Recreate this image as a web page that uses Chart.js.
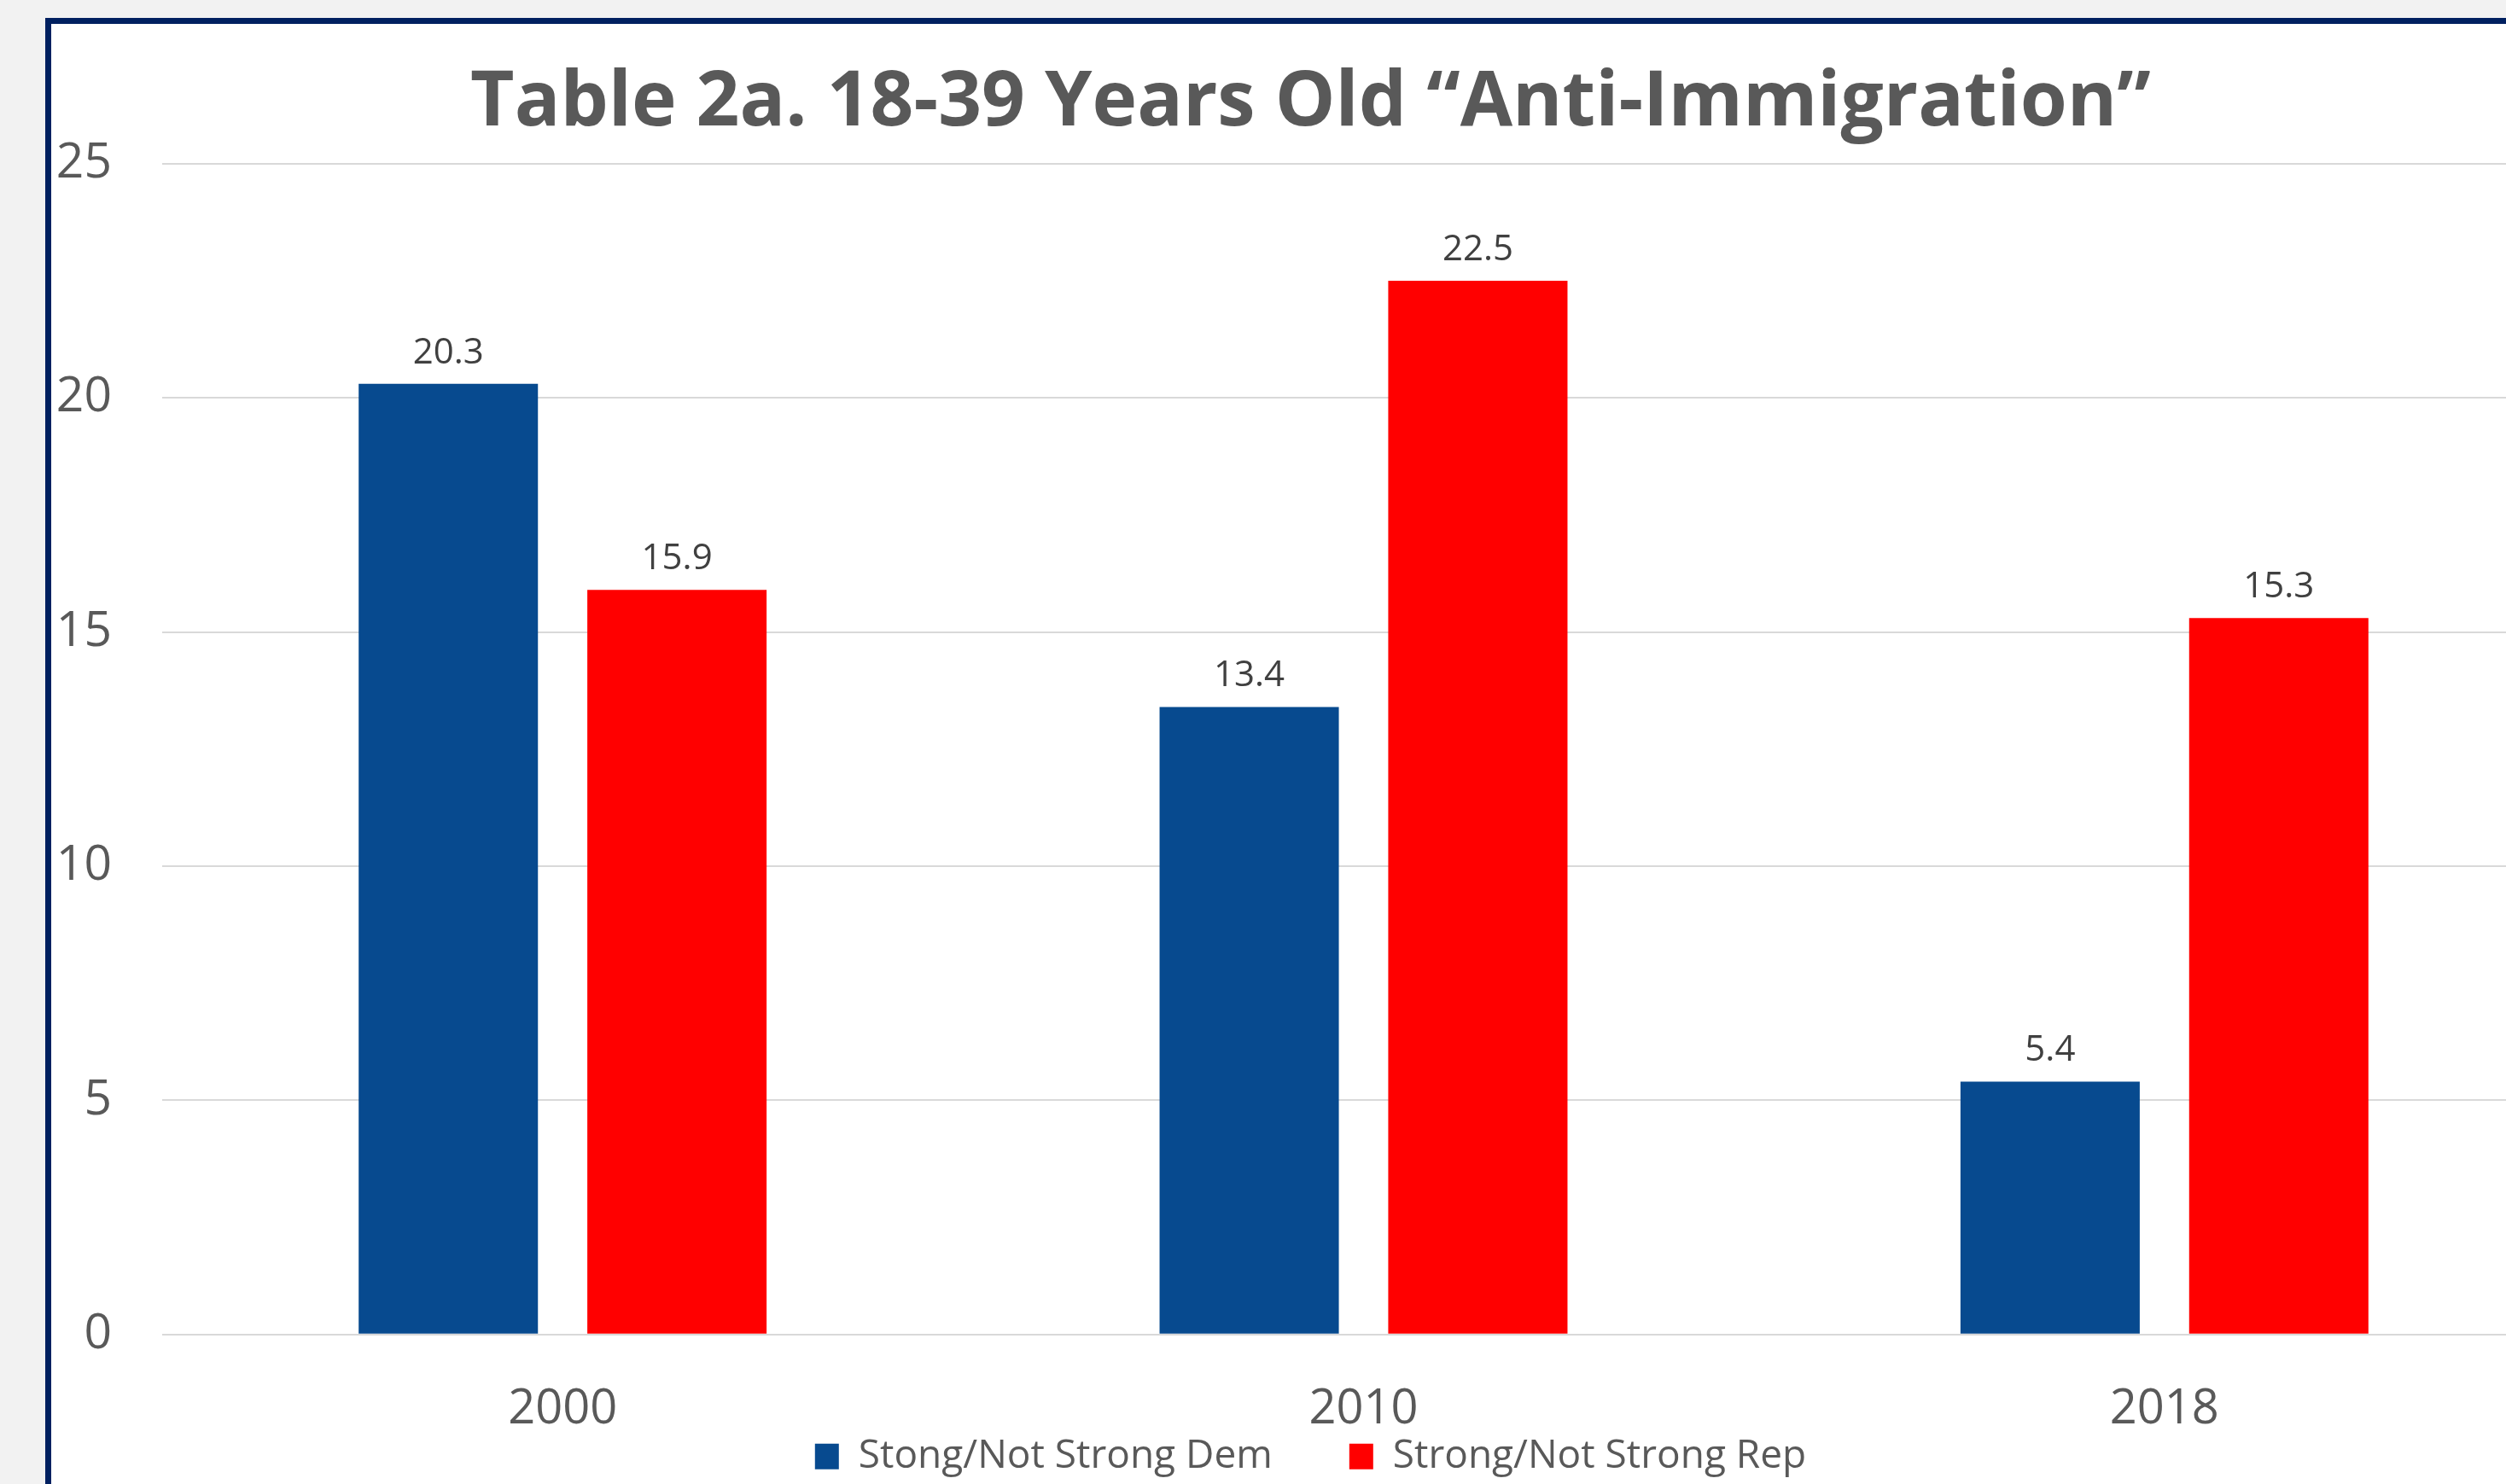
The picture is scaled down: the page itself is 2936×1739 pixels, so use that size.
<!DOCTYPE html>
<html>
<head>
<meta charset="utf-8">
<title>Table 2a</title>
<script src="https://cdn.jsdelivr.net/npm/chart.js@4.4.1/dist/chart.umd.min.js"></script>
<style>
  html, body { margin: 0; padding: 0; width: 2936px; height: 1739px; overflow: hidden; background: #f2f2f2; }
  #frame { position: absolute; left: 53px; top: 21px; width: 3000px; height: 1900px;
           border: 7px solid #002060; background: #ffffff; }
  #myChart { position: absolute; left: 0; top: 0; }
</style>
</head>
<body>
<div id="frame">
  <canvas id="myChart" width="2950" height="1851"></canvas>
</div>
<script>
const years = ['2000', '2010', '2018'];
const demValues = [20.3, 13.4, 5.4];
const repValues = [15.9, 22.5, 15.3];
const yTicks = [0, 5, 10, 15, 20, 25];

// value labels above each bar (no datalabels plugin available)
const barLabels = {
  id: 'barLabels',
  afterDatasetsDraw(chart) {
    const ctx = chart.ctx;
    ctx.save();
    ctx.font = '42px "Open Sans"';
    ctx.fillStyle = '#404040';
    ctx.textAlign = 'center';
    ctx.textBaseline = 'alphabetic';
    chart.data.datasets.forEach((ds, i) => {
      chart.getDatasetMeta(i).data.forEach((bar, j) => {
        ctx.fillText(ds.data[j].toFixed(1), bar.x, bar.y - 24);
      });
    });
    ctx.restore();
  }
};

// legend sits tight under the year labels, like the Excel original
const legendUp = {
  id: 'legendUp',
  afterLayout(chart) {
    const lg = chart.legend;
    const shift = lg.top - (chart.chartArea.bottom + 30);
    lg.top -= shift;
    lg.bottom -= shift;
  }
};

const ctx = document.getElementById('myChart');

new Chart(ctx, {
  type: 'bar',
  data: {
    labels: years,
    datasets: [
      {
        label: 'Stong/Not Strong Dem',
        data: demValues,
        backgroundColor: '#074a8f'
      },
      {
        label: 'Strong/Not Strong Rep',
        data: repValues,
        backgroundColor: '#ff0000'
      }
    ]
  },
  options: {
    responsive: false,
    devicePixelRatio: 1,
    animation: false,
    categoryPercentage: 0.571,
    barPercentage: 0.784,
    layout: {
      padding: { left: 6, right: 5, top: 0, bottom: 0 }
    },
    scales: {
      x: {
        grid: { display: false },
        border: { display: false },
        ticks: {
          color: '#595959',
          padding: 47,
          font: { family: 'Open Sans', size: 56 }
        }
      },
      y: {
        min: 0,
        max: 25,
        afterBuildTicks(axis) { axis.ticks = yTicks.map(v => ({ value: v })); },
        grid: { color: '#d9d9d9', lineWidth: 2, drawTicks: false },
        border: { display: false },
        ticks: {
          color: '#595959',
          padding: 59,
          font: { family: 'Open Sans', size: 57 }
        },
        afterFit(axis) { axis.width = 124; }
      }
    },
    plugins: {
      title: {
        display: true,
        text: 'Table 2a. 18-39 Years Old \u201cAnti-Immigration\u201d',
        color: '#595959',
        font: { family: 'Open Sans', size: 89, weight: 'bold' },
        padding: { top: 40, bottom: 17 }
      },
      legend: {
        position: 'bottom',
        labels: {
          color: '#595959',
          boxWidth: 28,
          boxHeight: 30,
          padding: 90,
          font: { family: 'Open Sans', size: 46 }
        }
      },
      tooltip: { enabled: false }
    }
  },
  plugins: [barLabels, legendUp]
});
</script>
</body>
</html>
